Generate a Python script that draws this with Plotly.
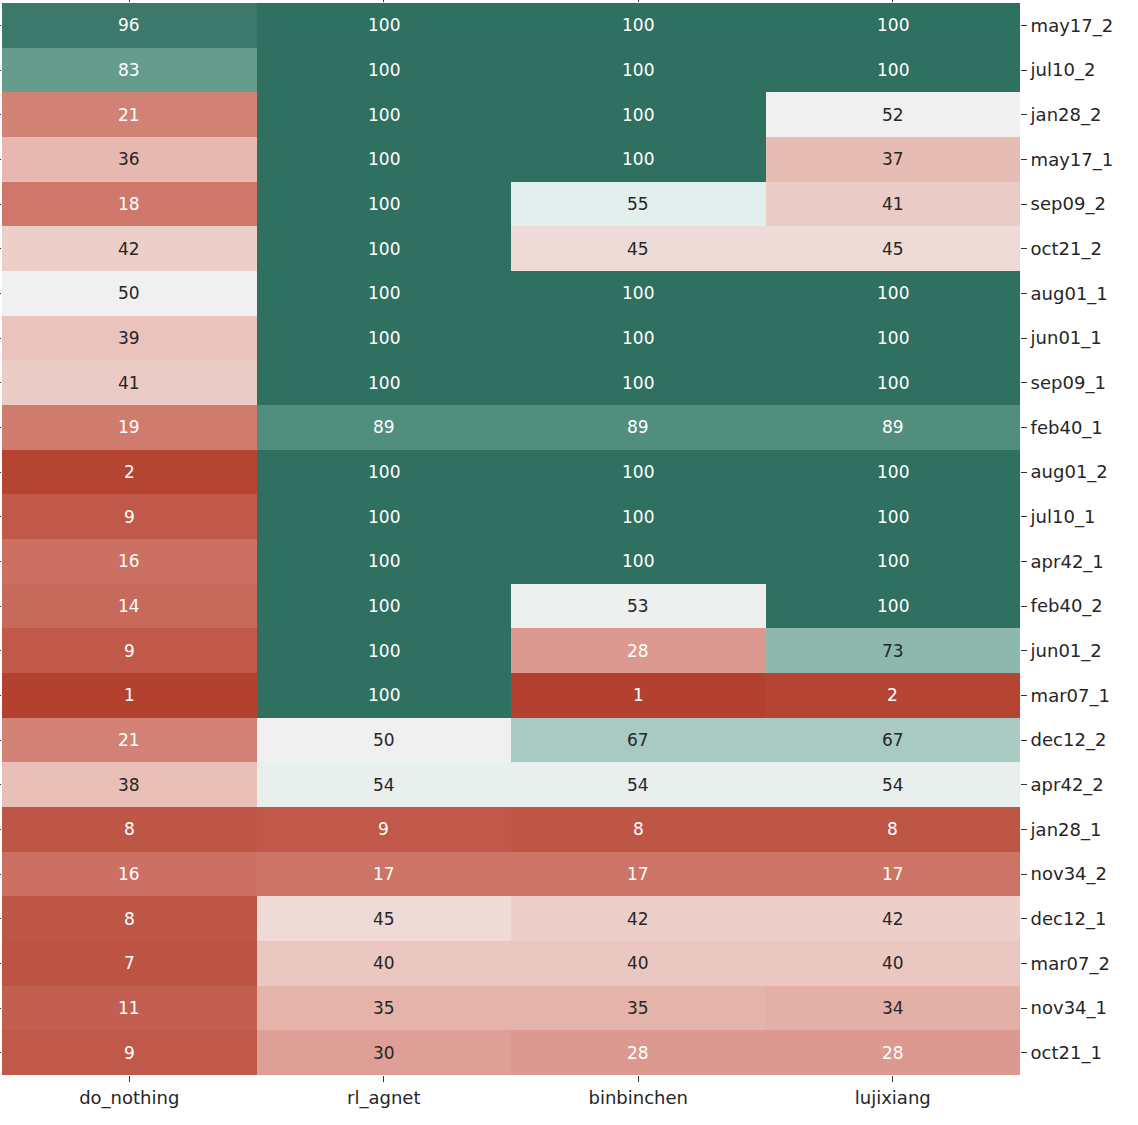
import plotly.graph_objects as go

rows = ["may17_2", "jul10_2", "jan28_2", "may17_1", "sep09_2", "oct21_2", "aug01_1",
        "jun01_1", "sep09_1", "feb40_1", "aug01_2", "jul10_1", "apr42_1", "feb40_2",
        "jun01_2", "mar07_1", "dec12_2", "apr42_2", "jan28_1", "nov34_2", "dec12_1",
        "mar07_2", "nov34_1", "oct21_1"]
columns = ["do_nothing", "rl_agnet", "binbinchen", "lujixiang"]

do_nothing = [96, 83, 21, 36, 18, 42, 50, 39, 41, 19, 2, 9, 16, 14, 9, 1, 21, 38, 8, 16, 8, 7, 11, 9]
rl_agnet = [100, 100, 100, 100, 100, 100, 100, 100, 100, 89, 100, 100, 100, 100, 100, 100, 50, 54, 9, 17, 45, 40, 35, 30]
binbinchen = [100, 100, 100, 100, 55, 45, 100, 100, 100, 89, 100, 100, 100, 53, 28, 1, 67, 54, 8, 17, 42, 40, 35, 28]
lujixiang = [100, 100, 52, 37, 41, 45, 100, 100, 100, 89, 100, 100, 100, 100, 73, 2, 67, 54, 8, 17, 42, 40, 34, 28]

series = [do_nothing, rl_agnet, binbinchen, lujixiang]
z = [[s[i] for s in series] for i in range(len(rows))]

stops = [
    (0.00, (179, 62, 45)),
    (0.10, (193, 92, 76)),
    (0.20, (209, 126, 113)),
    (0.30, (222, 160, 150)),
    (0.37, (231, 188, 180)),
    (0.44, (238, 214, 209)),
    (0.50, (240, 240, 240)),
    (0.53, (238, 240, 239)),
    (0.56, (222, 238, 234)),
    (0.62, (190, 217, 211)),
    (0.70, (155, 193, 183)),
    (0.80, (112, 163, 150)),
    (0.89, (82, 142, 126)),
    (0.96, (60, 121, 106)),
    (1.00, (48, 112, 96)),
]
vmin, vmax = 0, 100
colorscale = [[p, "rgb(%d,%d,%d)" % c] for p, c in stops]


def color_at(v):
    t = (v - vmin) / (vmax - vmin)
    t = min(max(t, 0), 1)
    for (p0, c0), (p1, c1) in zip(stops[:-1], stops[1:]):
        if p0 <= t <= p1:
            f = (t - p0) / (p1 - p0) if p1 > p0 else 0
            return [c0[k] + f * (c1[k] - c0[k]) for k in range(3)]
    return list(stops[-1][1])


def luminance(rgb):
    out = []
    for c in rgb:
        c = c / 255
        out.append(c / 12.92 if c <= 0.03928 else ((c + 0.055) / 1.055) ** 2.4)
    return 0.2126 * out[0] + 0.7152 * out[1] + 0.0722 * out[2]


fig = go.Figure(go.Heatmap(
    z=z, x=columns, y=rows, colorscale=colorscale, zmin=vmin, zmax=vmax,
    showscale=False, xgap=0, ygap=0, hoverongaps=False,
))

annotations = []
for i, r in enumerate(rows):
    for j, c in enumerate(columns):
        v = z[i][j]
        col = "#262626" if luminance(color_at(v)) > 0.408 else "white"
        annotations.append(dict(x=c, y=r, text=str(v), showarrow=False,
                                font=dict(family="DejaVu Sans", size=17, color=col)))

fig.update_layout(
    width=1138, height=1125,
    margin=dict(l=2, r=118, t=3, b=50),
    paper_bgcolor="white", plot_bgcolor="white",
    annotations=annotations,
    font=dict(family="DejaVu Sans", size=18, color="#262626"),
)
fig.update_xaxes(ticks="outside", ticklen=6, tickwidth=1, tickcolor="#333333",
                 mirror="ticks", showgrid=False, zeroline=False, automargin=False,
                 tickfont=dict(size=18, color="#262626"))
fig.update_yaxes(side="right", autorange="reversed", ticks="outside", ticklen=6,
                 tickwidth=1, tickcolor="#333333", mirror="ticks", showgrid=False,
                 zeroline=False, automargin=False,
                 tickfont=dict(size=18, color="#262626"))

fig.write_html("out.html", config={"displayModeBar": False},
               post_script="document.body.style.margin='0';")
